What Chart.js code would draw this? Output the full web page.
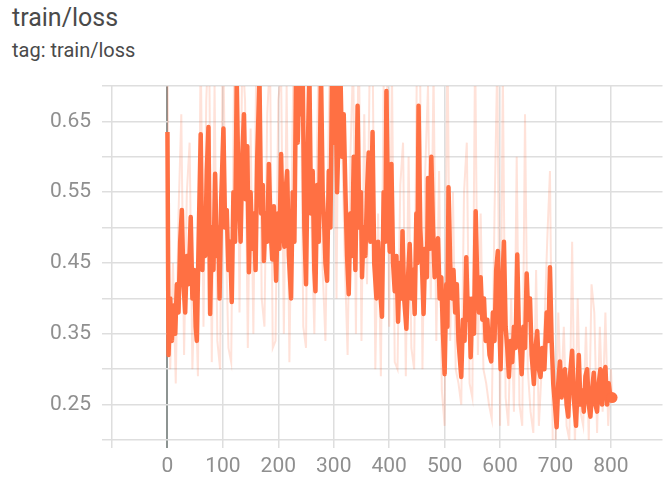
<!DOCTYPE html>
<html>
<head>
<meta charset="utf-8">
<script src="https://cdn.jsdelivr.net/npm/chart.js@4/dist/chart.umd.min.js"></script>
<style>
  html, body { margin: 0; padding: 0; background: #fff; overflow: hidden; }
  .wrap { position: relative; width: 668px; height: 480px; font-family: Roboto, sans-serif; }
  .title { position: absolute; left: 12px; top: 3px; font-size: 25px; color: #4a4a4a; }
  .tag { position: absolute; left: 12px; top: 38px; font-size: 20px; color: #4a4a4a; }
  canvas { position: absolute; left: 0; top: 0; }
</style>
</head>
<body>
<div class="wrap">
  <div class="title">train/loss</div>
  <div class="tag">tag: train/loss</div>
  <canvas id="chart" width="668" height="480"></canvas>
</div>
<script>
/* smoothed curve */
const smoothSteps = [
  0, 2, 5, 8, 11, 14, 17, 20, 23, 26, 29, 32, 35, 38, 42, 45, 48, 51, 53, 56,
  60, 63, 65, 68, 71, 74, 77, 80, 83, 86, 89, 92, 94, 97, 101, 104, 107, 110, 113, 116,
  119, 122, 125, 128, 132, 135, 138, 141, 144, 147, 150, 153, 156, 159, 162, 166, 169, 172, 174, 177,
  180, 183, 186, 189, 192, 196, 199, 202, 205, 208, 211, 213, 216, 219, 223, 226, 229, 232, 235, 238,
  241, 244, 247, 250, 253, 256, 259, 262, 265, 267, 270, 273, 277, 280, 283, 285, 288, 291, 294, 297,
  300, 303, 306, 309, 312, 315, 318, 321, 324, 327, 330, 333, 336, 339, 341, 343, 346, 349, 351, 354,
  357, 360, 363, 366, 370, 373, 377, 380, 383, 387, 390, 393, 395, 398, 401, 404, 407, 410, 413, 416,
  419, 422, 424, 427, 431, 434, 437, 440, 443, 446, 449, 451, 453, 456, 459, 462, 465, 468, 470, 473,
  476, 479, 482, 485, 488, 491, 494, 497, 500, 503, 505, 507, 510, 513, 516, 519, 522, 525, 530, 533,
  536, 539, 542, 544, 547, 550, 553, 556, 559, 562, 565, 568, 571, 574, 577, 581, 584, 587, 590, 593,
  596, 599, 601, 604, 607, 610, 613, 616, 619, 622, 625, 628, 631, 634, 637, 639, 642, 645, 648, 651,
  654, 657, 661, 664, 667, 670, 673, 676, 680, 684, 687, 690, 693, 696, 699, 702, 705, 708, 711, 714,
  717, 720, 723, 726, 730, 733, 737, 740, 742, 745, 748, 751, 754, 757, 760, 763, 766, 769, 772, 775,
  778, 781, 784, 787, 790, 793, 796, 799, 802
];
const smoothLoss = [
  0.635, 0.32, 0.40, 0.34, 0.39, 0.35, 0.42, 0.38, 0.48, 0.525, 0.42, 0.38, 0.46, 0.42, 0.515, 0.40, 0.44, 0.36, 0.34, 0.47,
  0.632, 0.44, 0.52, 0.46, 0.58, 0.642, 0.378, 0.50, 0.44, 0.576, 0.46, 0.50, 0.40, 0.54, 0.64, 0.50, 0.525, 0.44, 0.48, 0.395,
  0.55, 0.48, 0.71, 0.56, 0.48, 0.60, 0.66, 0.54, 0.615, 0.437, 0.55, 0.47, 0.52, 0.44, 0.60, 0.71, 0.52, 0.56, 0.453, 0.52,
  0.48, 0.59, 0.50, 0.455, 0.53, 0.425, 0.52, 0.47, 0.604, 0.50, 0.473, 0.55, 0.58, 0.46, 0.40, 0.55, 0.48, 0.72, 0.62, 0.72,
  0.66, 0.72, 0.50, 0.42, 0.60, 0.72, 0.52, 0.58, 0.44, 0.41, 0.56, 0.48, 0.72, 0.55, 0.50, 0.45, 0.425, 0.58, 0.50, 0.72,
  0.62, 0.72, 0.55, 0.64, 0.72, 0.60, 0.66, 0.552, 0.46, 0.406, 0.52, 0.46, 0.60, 0.44, 0.55, 0.672, 0.50, 0.55, 0.43, 0.50,
  0.46, 0.55, 0.606, 0.48, 0.635, 0.45, 0.40, 0.48, 0.42, 0.374, 0.55, 0.48, 0.693, 0.52, 0.466, 0.59, 0.45, 0.41, 0.46, 0.367,
  0.45, 0.40, 0.495, 0.40, 0.357, 0.43, 0.477, 0.40, 0.44, 0.378, 0.52, 0.45, 0.672, 0.50, 0.45, 0.378, 0.47, 0.43, 0.57, 0.47,
  0.60, 0.50, 0.43, 0.46, 0.485, 0.40, 0.43, 0.35, 0.293, 0.42, 0.36, 0.557, 0.45, 0.40, 0.44, 0.38, 0.42, 0.34, 0.289, 0.37,
  0.34, 0.458, 0.37, 0.40, 0.317, 0.40, 0.35, 0.523, 0.42, 0.38, 0.43, 0.37, 0.40, 0.34, 0.37, 0.32, 0.311, 0.38, 0.34, 0.44,
  0.467, 0.36, 0.30, 0.42, 0.48, 0.36, 0.33, 0.289, 0.34, 0.31, 0.36, 0.33, 0.462, 0.35, 0.32, 0.293, 0.36, 0.33, 0.435, 0.37,
  0.40, 0.32, 0.279, 0.33, 0.354, 0.30, 0.289, 0.33, 0.30, 0.38, 0.34, 0.444, 0.34, 0.279, 0.25, 0.218, 0.28, 0.311, 0.26, 0.29,
  0.30, 0.25, 0.233, 0.29, 0.326, 0.26, 0.22, 0.28, 0.32, 0.25, 0.27, 0.24, 0.29, 0.30, 0.25, 0.233, 0.27, 0.295, 0.25, 0.24,
  0.28, 0.30, 0.25, 0.29, 0.303, 0.25, 0.28, 0.26, 0.26
];

/* raw (unsmoothed) values, every 5 steps */
const rawSteps = [
  0, 5, 10, 15, 20, 25, 30, 35, 40, 45, 50, 55, 60, 65, 70, 75, 80, 85, 90, 95,
  100, 105, 110, 115, 120, 125, 130, 135, 140, 145, 150, 155, 160, 165, 170, 175, 180, 185, 190, 195,
  200, 205, 210, 215, 220, 225, 230, 235, 240, 245, 250, 255, 260, 265, 270, 275, 280, 285, 290, 295,
  300, 305, 310, 315, 320, 325, 330, 335, 340, 345, 350, 355, 360, 365, 370, 375, 380, 385, 390, 395,
  400, 405, 410, 415, 420, 425, 430, 435, 440, 445, 450, 455, 460, 465, 470, 475, 480, 485, 490, 495,
  500, 505, 510, 515, 520, 525, 530, 535, 540, 545, 550, 555, 560, 565, 570, 575, 580, 585, 590, 595,
  600, 605, 610, 615, 620, 625, 630, 635, 640, 645, 650, 655, 660, 665, 670, 675, 680, 685, 690, 695,
  700, 705, 710, 715, 720, 725, 730, 735, 740, 745, 750, 755, 760, 765, 770, 775, 780, 785, 790, 795,
  800, 802
];
const rawLoss = [
  0.74, 0.30, 0.45, 0.28, 0.52, 0.66, 0.32, 0.55, 0.62, 0.30, 0.44, 0.29, 0.76, 0.36, 0.68, 0.78, 0.31, 0.70, 0.34, 0.30,
  0.80, 0.50, 0.33, 0.31, 0.70, 0.85, 0.38, 0.75, 0.68, 0.33, 0.64, 0.35, 0.72, 0.85, 0.40, 0.36, 0.66, 0.74, 0.33, 0.34,
  0.68, 0.72, 0.35, 0.70, 0.31, 0.60, 0.88, 0.82, 0.80, 0.36, 0.33, 0.85, 0.50, 0.35, 0.62, 0.86, 0.44, 0.34, 0.60, 0.84,
  0.75, 0.40, 0.86, 0.62, 0.45, 0.32, 0.60, 0.74, 0.35, 0.80, 0.34, 0.66, 0.42, 0.74, 0.76, 0.30, 0.52, 0.29, 0.70, 0.84,
  0.36, 0.72, 0.31, 0.30, 0.56, 0.62, 0.29, 0.60, 0.33, 0.30, 0.74, 0.80, 0.30, 0.58, 0.70, 0.40, 0.72, 0.34, 0.58, 0.27,
  0.22, 0.78, 0.34, 0.55, 0.30, 0.28, 0.25, 0.55, 0.62, 0.28, 0.26, 0.76, 0.32, 0.52, 0.30, 0.28, 0.25, 0.23, 0.52, 0.74,
  0.22, 0.72, 0.26, 0.22, 0.40, 0.24, 0.60, 0.25, 0.22, 0.66, 0.30, 0.24, 0.21, 0.44, 0.22, 0.30, 0.36, 0.48, 0.58, 0.20,
  0.19, 0.38, 0.26, 0.36, 0.22, 0.20, 0.48, 0.19, 0.40, 0.24, 0.22, 0.36, 0.20, 0.42, 0.38, 0.21, 0.36, 0.24, 0.38, 0.22,
  0.30, 0.26
];

/* axis ticks */
const xTickValues = [-100, 0, 100, 200, 300, 400, 500, 600, 700, 800];
const yTickValues = [0.2, 0.25, 0.3, 0.35, 0.4, 0.45, 0.5, 0.55, 0.6, 0.65, 0.7];
const yTickLabels = ['', '0.25', '', '0.35', '', '0.45', '', '0.55', '', '0.65', ''];

const X_MIN = -100;
const X_MAX = 893;
const Y_MIN = 0.2;
const Y_MAX = 0.7;

const ORANGE = '#ff7043';
const GRID = '#dedede';
const LABEL = '#8f8f8f';

const smoothPts = smoothSteps.map((s, i) => ({ x: s, y: smoothLoss[i] }));
const rawPts = rawSteps.map((s, i) => ({ x: s, y: rawLoss[i] }));

new Chart(document.getElementById('chart'), {
  type: 'line',
  data: {
    datasets: [
      {
        label: 'smoothed',
        data: smoothPts,
        borderColor: ORANGE,
        backgroundColor: ORANGE,
        borderWidth: 4.5,
        borderJoinStyle: 'round',
        tension: 0,
        clip: 0,
        pointRadius: ctx => ctx.dataIndex === smoothPts.length - 1 ? 5.5 : 0,
        pointBorderWidth: 0,
        pointBackgroundColor: ORANGE
      },
      {
        label: 'raw',
        data: rawPts,
        borderColor: 'rgba(255,112,67,0.2)',
        borderWidth: 2,
        tension: 0,
        clip: 0,
        pointRadius: 0
      }
    ]
  },
  options: {
    responsive: false,
    animation: false,
    layout: { padding: { top: 86, left: 0, right: 0, bottom: 0 } },
    plugins: { legend: { display: false }, tooltip: { enabled: false } },
    scales: {
      x: {
        type: 'linear',
        min: X_MIN,
        max: X_MAX,
        afterBuildTicks: axis => { axis.ticks = xTickValues.map(v => ({ value: v })); },
        afterFit: scale => { scale.height = 40; },
        ticks: {
          padding: 6,
          color: LABEL,
          font: { family: 'Roboto', size: 21 },
          maxRotation: 0,
          autoSkip: false,
          callback: v => (v < 0 ? '' : String(v))
        },
        grid: {
          color: ctx => (ctx.tick && ctx.tick.value === 0 ? '#8d9492' : GRID),
          lineWidth: ctx => (ctx.tick && ctx.tick.value === 0 ? 2 : 1.5),
          tickLength: 8
        },
        border: { display: false }
      },
      y: {
        min: Y_MIN,
        max: Y_MAX,
        afterBuildTicks: axis => { axis.ticks = yTickValues.map(v => ({ value: v })); },
        afterFit: scale => { scale.width = 112; },
        ticks: {
          padding: 11,
          color: LABEL,
          font: { family: 'Roboto', size: 21 },
          autoSkip: false,
          callback: (v, i) => yTickLabels[i]
        },
        grid: { color: GRID, lineWidth: 1.5, tickLength: 10 },
        border: { display: false }
      }
    }
  }
});
</script>
</body>
</html>
